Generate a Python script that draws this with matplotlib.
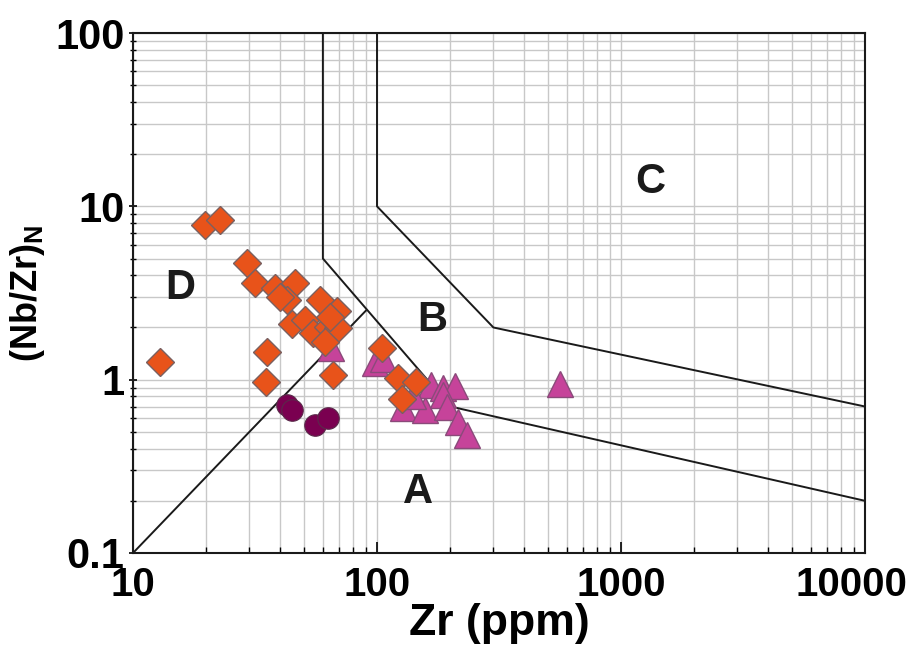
import matplotlib
matplotlib.use("Agg")
import matplotlib.pyplot as plt
import matplotlib.transforms as mtransforms
from matplotlib.ticker import LogLocator, NullFormatter

# ---- data ----
diamond_zr = [12.9, 19.7, 22.7, 29.2, 31.6, 38.2, 46.1, 42.7, 40.0, 58.4, 68.3, 44.7, 50.7,
              54.8, 63.1, 69.4, 61.2, 64.2, 35.3, 35.1, 66.2, 104.5, 122, 145, 127]
diamond_nbzr = [1.26, 7.8, 8.3, 4.7, 3.6, 3.4, 3.6, 2.9, 3.0, 2.9, 2.5, 2.1, 2.2,
                1.85, 2.0, 1.98, 1.65, 2.3, 1.45, 0.97, 1.06, 1.53, 1.02, 0.97, 0.77]

circle_zr = [42.7, 44.7, 55.7, 63.1]
circle_nbzr = [0.71, 0.67, 0.55, 0.60]

triangle_zr = [65, 98, 106, 128, 157, 167, 186, 209, 186, 193, 215, 233, 562, 140]
triangle_nbzr = [1.52, 1.25, 1.31, 0.69, 0.67, 0.93, 0.9, 0.92, 0.82, 0.70, 0.57, 0.48, 0.95, 0.80]

# field boundaries (Zr, (Nb/Zr)N)
b1_zr = [10, 90]
b1_nbzr = [0.1, 2.5]
b2_zr = [60, 60, 200, 10000]
b2_nbzr = [100, 5, 0.7, 0.2]
b3_zr = [100, 100, 300, 10000]
b3_nbzr = [100, 10, 2, 0.7]

field_labels = ["A", "B", "C", "D"]
field_x = [147, 168, 1315, 15.6]
field_y = [0.225, 2.21, 13.8, 3.38]

xticks = [10, 100, 1000, 10000]
xticklabels = ["10", "100", "1000", "10000"]
yticks = [0.1, 1, 10, 100]
yticklabels = ["0.1", "1", "10", "100"]

# ---- figure ----
fig = plt.figure(figsize=(9.19, 6.58), dpi=100)
ax = fig.add_axes([133/919, 1-553/658, (865-133)/919, (553-33)/658])
ax.set_xscale("log")
ax.set_yscale("log")
ax.set_xlim(10, 10000)
ax.set_ylim(0.1, 100)

ax.grid(True, which="both", color="#c8c8c8", linewidth=1.0, zorder=0)
ax.set_axisbelow(True)

for xs, ys in [(b1_zr, b1_nbzr), (b2_zr, b2_nbzr), (b3_zr, b3_nbzr)]:
    ax.plot(xs, ys, color="#1a1a1a", linewidth=1.4, zorder=2)

ax.plot(triangle_zr, triangle_nbzr, linestyle="none", marker="^", markersize=19,
        markerfacecolor="#c6439a", markeredgecolor="#8a4a7a", markeredgewidth=1.0, zorder=3)
ax.plot(diamond_zr, diamond_nbzr, linestyle="none", marker="D", markersize=14,
        markerfacecolor="#e8531a", markeredgecolor="#7a6060", markeredgewidth=1.0, zorder=4)
ax.plot(circle_zr, circle_nbzr, linestyle="none", marker="o", markersize=15.5,
        markerfacecolor="#7a0050", markeredgecolor="#5a2a4a", markeredgewidth=0.8, zorder=4)

for t, x, y in zip(field_labels, field_x, field_y):
    ax.text(x, y, t, fontsize=30, fontweight="bold", family=["Liberation Sans", "DejaVu Sans"],
            color="#1a1a1a", ha="center", va="center", zorder=5)

tickfont = ["Liberation Sans Narrow", "Liberation Sans", "DejaVu Sans"]
ax.set_xticks(xticks)
ax.set_xticklabels(xticklabels, fontsize=29, fontweight="bold", family=tickfont)
ax.set_yticks(yticks)
ax.set_yticklabels(yticklabels, fontsize=30, fontweight="bold", family=tickfont)
ax.xaxis.set_minor_locator(LogLocator(base=10, subs=range(2, 10)))
ax.yaxis.set_minor_locator(LogLocator(base=10, subs=range(2, 10)))
ax.xaxis.set_minor_formatter(NullFormatter())
ax.yaxis.set_minor_formatter(NullFormatter())
ax.tick_params(axis="x", which="major", direction="in", length=8, width=1.2, pad=9)
ax.tick_params(axis="x", which="minor", direction="in", length=4, width=1.0)
ax.tick_params(axis="y", which="major", direction="inout", length=6, width=1.2, pad=3)
ax.tick_params(axis="y", which="minor", direction="inout", length=4, width=1.0)

# keep the last x tick label inside the figure
last = ax.get_xticklabels()[-1]
last.set_transform(last.get_transform() +
                   mtransforms.ScaledTranslation(-14/100, 0, fig.dpi_scale_trans))

ax.set_xlabel("Zr (ppm)", fontsize=32, fontweight="bold", family=tickfont, labelpad=0)
ax.set_ylabel(r"(Nb/Zr)$_\mathregular{N}$", fontsize=26, fontweight="bold",
              family=["Liberation Sans", "DejaVu Sans"], labelpad=6)

for s in ax.spines.values():
    s.set_linewidth(1.5)
    s.set_color("#1a1a1a")

fig.savefig("out.png", dpi=100)
